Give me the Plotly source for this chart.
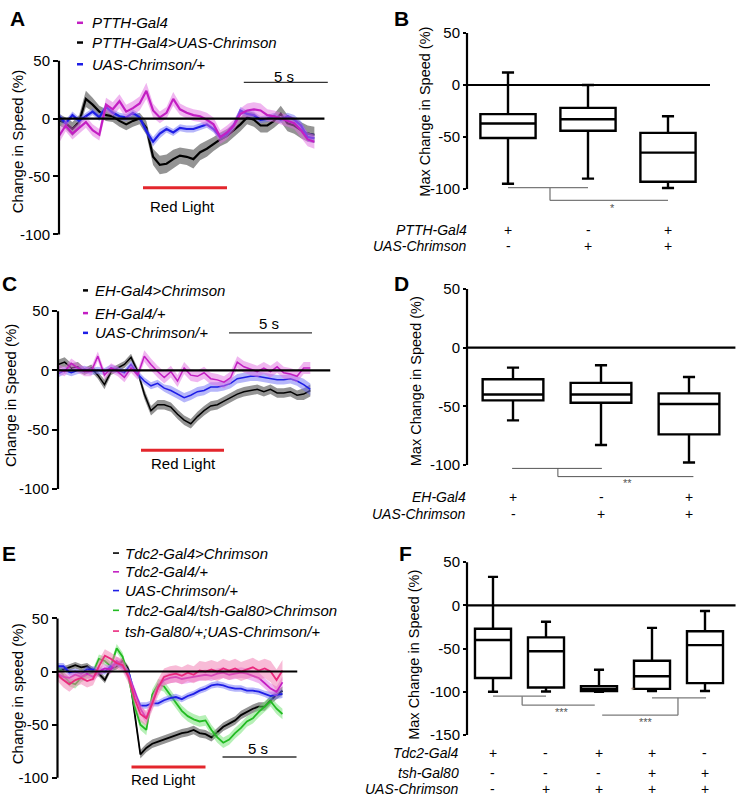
import plotly.graph_objects as go

W, H = 736, 799
FONT = "Liberation Sans, Arial, Helvetica, sans-serif"

# ---------------- data ----------------
TIME = [0.0, 0.4, 0.8, 1.2, 1.6, 2.0, 2.4, 2.8, 3.2, 3.6,
        4.0, 4.4, 4.8, 5.2, 5.6, 6.0, 6.4, 6.8, 7.2, 7.6,
        8.0, 8.4, 8.8, 9.2, 9.6, 10.0, 10.4, 10.8, 11.2, 11.6,
        12.0, 12.4, 12.8, 13.2, 13.6, 14.0, 14.4, 14.8, 15.2]
LIGHT_ON, LIGHT_OFF = 5, 10
SCALE_S = 5

# Panel A (PTTH)
A_LABELS = ["PTTH-Gal4", "PTTH-Gal4>UAS-Chrimson", "UAS-Chrimson/+"]
A_GAL4 = [-15, -6, -13, -8, -3, -10, -14, 12, 8, 15, 6, 9, 13, 24, 7, 1, 5, 17, 8, 5,
          3, 2, -1, -5, -16, -12, -6, 4, 7, 8, 7, 3, 2, 0, -2, -4, -10, -18, -20]
A_GAL4_SEM = [6, 5, 5, 5, 5, 5, 5, 6, 6, 6, 6, 6, 6, 7, 6, 5, 5, 6, 5, 5,
              5, 5, 6, 6, 6, 6, 5, 5, 6, 6, 6, 5, 5, 5, 5, 5, 6, 6, 6]
A_CHR = [-1, -4, -9, -3, 17, 12, 6, 3, 2, -2, -5, -2, 0, -8, -33, -40, -39, -35, -32, -33,
         -35, -29, -26, -22, -18, -15, -10, -5, 1, -1, -6, -6, -2, 4, -4, -6, -10, -13, -14]
A_CHR_SEM = [5, 5, 6, 6, 7, 6, 5, 5, 5, 5, 5, 5, 5, 6, 7, 8, 8, 8, 7, 7,
             8, 7, 7, 6, 6, 6, 6, 6, 6, 6, 6, 6, 6, 7, 7, 7, 7, 7, 7]
A_UAS = [2, -4, 3, -2, 2, 6, 1, 10, 5, 2, 1, 5, 1, -11, -20, -13, -9, -12, -8, -9,
         -9, -7, -5, -9, -16, -13, -6, 7, 4, 3, -1, 0, 2, -1, 2, -1, -6, -16, -17]
A_UAS_SEM = [3, 3, 3, 3, 3, 3, 3, 3, 3, 3, 3, 3, 3, 3, 4, 4, 3, 3, 3, 3,
             3, 3, 3, 3, 3, 3, 3, 3, 3, 3, 3, 3, 3, 3, 3, 4, 4, 4, 4]

# Panel C (EH)
C_LABELS = ["EH-Gal4>Chrimson", "EH-Gal4/+", "UAS-Chrimson/+"]
C_CHR = [5, 7, 2, 3, -1, 2, -4, -12, -1, 2, 5, 11, -1, -20, -34, -29, -29, -31, -37, -42,
         -45, -39, -34, -30, -29, -26, -23, -20, -18, -17, -16, -18, -16, -19, -19, -18, -21, -20, -17]
C_CHR_SEM = [4, 4, 4, 4, 3, 3, 3, 4, 3, 3, 3, 3, 3, 4, 4, 4, 4, 4, 4, 4,
             4, 4, 4, 4, 4, 4, 4, 4, 4, 4, 4, 4, 4, 4, 4, 4, 4, 5, 5]
C_GAL4 = [1, -1, 6, 2, -1, -1, 12, -4, 2, -1, -6, 2, -4, 12, 5, -1, -6, -1, -9, 2,
          -4, -5, -2, -7, -8, -10, -6, 7, 3, 1, -1, 2, -1, 3, -2, -3, -5, 2, 2]
C_GAL4_SEM = [4, 4, 4, 4, 4, 4, 4, 4, 4, 4, 4, 4, 4, 5, 5, 5, 5, 5, 5, 5,
              5, 5, 5, 5, 5, 5, 5, 5, 5, 5, 5, 5, 5, 5, 5, 5, 5, 5, 5]
C_UAS = [-3, 0, -2, 0, 1, -1, 0, -1, 2, 0, -2, 5, -3, -9, -13, -11, -15, -17, -20, -23,
         -21, -18, -17, -14, -14, -13, -11, -7, -6, -5, -5, -6, -7, -8, -8, -7, -9, -12, -16]
C_UAS_SEM = [3, 3, 3, 3, 3, 3, 3, 3, 3, 3, 3, 3, 3, 3, 3, 3, 3, 4, 4, 4,
             4, 4, 4, 4, 4, 4, 4, 4, 4, 4, 4, 4, 4, 4, 4, 4, 4, 5, 5]

# Panel E (Tdc2)
E_LABELS = ["Tdc2-Gal4>Chrimson", "Tdc2-Gal4/+", "UAS-Chrimson/+",
            "Tdc2-Gal4/tsh-Gal80>Chrimson", "tsh-Gal80/+;UAS-Chrimson/+"]
E_CHR = [2, 2, 4, 6, 4, 5, 1, -2, -8, 3, 5, 10, 2, -40, -78, -72, -68, -66, -64, -62,
         -60, -58, -57, -55, -58, -59, -62, -57, -52, -49, -46, -41, -38, -35, -33, -33, -27, -22, -18]
E_CHR_SEM = [3, 3, 3, 3, 3, 3, 3, 3, 3, 3, 3, 3, 3, 3, 4, 4, 4, 4, 4, 4,
             4, 4, 4, 4, 4, 4, 4, 4, 4, 4, 4, 4, 4, 4, 4, 4, 4, 4, 4]
E_GAL4 = [-2, -5, -6, -3, -5, -2, -5, 0, 3, 2, 10, 6, -5, -18, -35, -44, -30, -15, -8, -6,
          -5, -7, -6, -5, -4, -3, -4, -2, -1, -3, -2, -1, -2, -4, -6, -11, -16, -19, -10]
E_GAL4_SEM = [4, 4, 4, 4, 4, 4, 4, 4, 4, 4, 4, 4, 4, 4, 5, 5, 5, 5, 5, 5,
              5, 5, 5, 5, 5, 5, 5, 5, 5, 5, 5, 5, 5, 5, 5, 5, 5, 5, 5]
E_UAS = [5, 5, -1, 0, -2, 2, 2, 1, 0, 5, 8, 4, 0, -20, -32, -32, -30, -30, -27, -25,
         -24, -26, -23, -21, -18, -16, -13, -12, -13, -15, -16, -16, -18, -18, -19, -21, -23, -22, -21]
E_UAS_SEM = [3, 3, 3, 3, 3, 3, 3, 3, 3, 3, 3, 3, 3, 3, 3, 3, 3, 3, 3, 3,
             3, 3, 3, 3, 3, 3, 3, 3, 3, 3, 3, 3, 3, 3, 3, 3, 4, 4, 4]
E_GAL80_CHR = [5, -4, -10, -12, -6, -3, -1, 12, 10, 5, 22, 14, -6, -32, -50, -55, -22, -12, -14, -22,
               -30, -37, -42, -45, -47, -46, -55, -62, -67, -64, -58, -53, -47, -44, -38, -33, -28, -35, -40]
E_GAL80_CHR_SEM = [4, 4, 4, 4, 4, 4, 4, 4, 4, 4, 4, 4, 4, 5, 5, 5, 5, 5, 5, 5,
                   5, 5, 5, 5, 5, 5, 5, 5, 5, 5, 5, 5, 5, 5, 5, 5, 5, 5, 5]
E_GAL80_UAS = [-3, -8, -12, -8, -6, -9, -7, 5, 15, 12, 8, 6, -5, -25, -40, -44, -30, -15, -5, -3,
               -2, -4, -1, -3, 1, 0, 2, 0, 3, 1, 3, 0, 2, 4, 1, 3, 0, -8, 1]
E_GAL80_UAS_SEM = [6, 7, 7, 6, 6, 6, 6, 6, 6, 6, 6, 6, 6, 6, 7, 7, 7, 8, 8, 8,
                   8, 8, 8, 8, 9, 9, 9, 9, 9, 9, 9, 9, 9, 9, 9, 9, 10, 10, 10]

# Panel B boxes (max change in speed, %)
B_X = [1, 2, 3]
B_LOW = [-95, -90, -99]
B_Q1 = [-51, -44, -93]
B_MED = [-37, -33, -65]
B_Q3 = [-28, -22, -46]
B_HIGH = [12, 0, -30]
B_ROWS = ["PTTH-Gal4", "UAS-Chrimson"]
B_SIGNS = [["+", "-", "+"], ["-", "+", "+"]]

# Panel D boxes
D_X = [1, 2, 3]
D_LOW = [-62, -83, -98]
D_Q1 = [-45, -47, -74]
D_MED = [-40, -40, -48]
D_Q3 = [-27, -30, -39]
D_HIGH = [-17, -15, -25]
D_ROWS = ["EH-Gal4", "UAS-Chrimson"]
D_SIGNS = [["+", "-", "+"], ["-", "+", "+"]]

# Panel F boxes
F_X = [1, 2, 3, 4, 5]
F_LOW = [-100, -99.6, -100, -99, -99]
F_Q1 = [-84, -95, -99, -96.6, -90]
F_MED = [-40, -53, -97, -82, -46]
F_Q3 = [-27, -37, -93.5, -64, -30]
F_HIGH = [33, -19, -74.5, -26, -6.5]
F_ROWS = ["Tdc2-Gal4", "tsh-Gal80", "UAS-Chrimson"]
F_SIGNS = [["+", "-", "+", "+", "-"], ["-", "-", "-", "+", "+"], ["-", "+", "+", "+", "+"]]

TICKS_TRACE = [50, 0, -50, -100]
TICKS_TRACE_TXT = ["50", "0", "-50", "-100"]
TICKS_F = [50, 0, -50, -100, -150]
TICKS_F_TXT = ["50", "0", "-50", "-100", "-150"]

# ---------------- style ----------------
BLACK, BLACK_BAND = "#000000", "rgba(60,60,60,0.55)"
MAG, MAG_BAND = "#c31fc3", "rgba(225,110,225,0.5)"
BLUE, BLUE_BAND = "#1e1ee6", "rgba(110,110,245,0.5)"
GREEN, GREEN_BAND = "#22bb22", "rgba(110,225,110,0.5)"
PINK, PINK_BAND = "#ea2a7e", "rgba(242,120,175,0.5)"
RED = "#e3262c"

fig = go.Figure()


def add_series(mean, sem, color, band, width, xa, ya, name):
    up = [m + s for m, s in zip(mean, sem)]
    lo = [m - s for m, s in zip(mean, sem)]
    fig.add_trace(go.Scatter(x=TIME + TIME[::-1], y=up + lo[::-1], fill="toself",
                             fillcolor=band, line=dict(width=0), mode="lines",
                             hoverinfo="skip", showlegend=False, xaxis=xa, yaxis=ya))
    fig.add_trace(go.Scatter(x=TIME, y=mean, mode="lines", name=name,
                             line=dict(color=color, width=width), showlegend=False,
                             xaxis=xa, yaxis=ya))


def add_boxes(xs, low, q1, med, q3, high, width, ww, xa, ya):
    fig.add_trace(go.Box(x=xs, lowerfence=low, q1=q1, median=med, q3=q3, upperfence=high,
                         width=width, whiskerwidth=ww, fillcolor="white",
                         line=dict(color="black", width=2.4), boxpoints=False,
                         showlegend=False, hoverinfo="skip", xaxis=xa, yaxis=ya))


# A
add_series(A_CHR, A_CHR_SEM, BLACK, BLACK_BAND, 2.2, "x", "y", A_LABELS[1])
add_series(A_UAS, A_UAS_SEM, BLUE, BLUE_BAND, 2.2, "x", "y", A_LABELS[2])
add_series(A_GAL4, A_GAL4_SEM, MAG, MAG_BAND, 2.2, "x", "y", A_LABELS[0])
# C
add_series(C_CHR, C_CHR_SEM, BLACK, BLACK_BAND, 1.5, "x3", "y3", C_LABELS[0])
add_series(C_UAS, C_UAS_SEM, BLUE, BLUE_BAND, 1.5, "x3", "y3", C_LABELS[2])
add_series(C_GAL4, C_GAL4_SEM, MAG, MAG_BAND, 1.5, "x3", "y3", C_LABELS[1])
# E
add_series(E_CHR, E_CHR_SEM, BLACK, BLACK_BAND, 1.8, "x5", "y5", E_LABELS[0])
add_series(E_GAL80_CHR, E_GAL80_CHR_SEM, GREEN, GREEN_BAND, 1.8, "x5", "y5", E_LABELS[3])
add_series(E_UAS, E_UAS_SEM, BLUE, BLUE_BAND, 1.8, "x5", "y5", E_LABELS[2])
add_series(E_GAL4, E_GAL4_SEM, MAG, MAG_BAND, 1.8, "x5", "y5", E_LABELS[1])
add_series(E_GAL80_UAS, E_GAL80_UAS_SEM, PINK, PINK_BAND, 1.8, "x5", "y5", E_LABELS[4])
# boxes
add_boxes(B_X, B_LOW, B_Q1, B_MED, B_Q3, B_HIGH, 0.69, 0.22, "x2", "y2")
add_boxes(D_X, D_LOW, D_Q1, D_MED, D_Q3, D_HIGH, 0.69, 0.2, "x4", "y4")
add_boxes(F_X, F_LOW, F_Q1, F_MED, F_Q3, F_HIGH, 0.68, 0.28, "x6", "y6")

# ---------------- layout geometry (pixel calibration) ----------------
# panel: (x px at 0, px per unit, x range, y px at 0, px per unit, y range)
GEOM = {
    "A": (59, 16.8, [0, 16.2], 114, 1.173, [-104, 53]),
    "B": (428, 80, [0.4875, 3.84], 80, 1.053, [-160, 56]),
    "C": (58, 16.6, [0, 16.5], 369, 1.2, [-104, 53]),
    "D": (425, 88, [0.4773, 3.53], 346, 1.187, [-146, 56]),
    "E": (57.5, 14.8, [0, 16.5], 674, 1.075, [-106, 53]),
    "F": (440, 53, [0.5094, 5.58], 607, 0.875, [-216, 57]),
}
AX = {"A": ("x", "y", ""), "B": ("x2", "y2", "2"), "C": ("x3", "y3", "3"),
      "D": ("x4", "y4", "4"), "E": ("x5", "y5", "5"), "F": ("x6", "y6", "6")}

layout_axes = {}
for key, (a, b, xr, c, d, yr) in GEOM.items():
    xid, yid, n = AX[key]
    xdom = [(a + b * xr[0]) / W, min(1.0, (a + b * xr[1]) / W)]
    ydom = [1 - (c - d * yr[0]) / H, 1 - (c - d * yr[1]) / H]
    is_box = key in ("B", "D", "F")
    tv = TICKS_F if key == "F" else TICKS_TRACE
    tt = TICKS_F_TXT if key == "F" else TICKS_TRACE_TXT
    layout_axes["xaxis" + n] = dict(domain=xdom, range=xr, visible=False, anchor=yid, fixedrange=True)
    layout_axes["yaxis" + n] = dict(domain=ydom, range=yr, anchor=xid, tickvals=tv, ticktext=tt,
                                    ticks="outside", ticklen=3 if is_box else 5, tickwidth=2,
                                    tickcolor="black", showline=False, showgrid=False,
                                    zeroline=False, fixedrange=True,
                                    tickfont=dict(size=15, color="black", family=FONT))

shapes = []
annotations = []


def line(x0, y0, x1, y1, xref, yref, color="black", width=2.0):
    shapes.append(dict(type="line", x0=x0, y0=y0, x1=x1, y1=y1, xref=xref, yref=yref,
                       line=dict(color=color, width=width), layer="above"))


def text(x, y, s, xref, yref, size=15, xanchor="center", yanchor="middle",
         color="black", angle=0, bold=False):
    annotations.append(dict(x=x, y=y, text=s, xref=xref, yref=yref, showarrow=False,
                            xanchor=xanchor, yanchor=yanchor, textangle=angle,
                            font=dict(size=size, color=color,
                                      family=FONT, weight="bold" if bold else "normal")))


# y axis lines (drawn from -100/-150 to 50)
for key in GEOM:
    a, b, xr, c, d, yr = GEOM[key]
    xid, yid, n = AX[key]
    axis_px = a + b * xr[0]
    bottom = -150 if key == "F" else -100
    line(axis_px / W, bottom, axis_px / W, 50, "paper", yid, width=2.2)

# zero lines
line(0, 0, 15.8, 0, "x", "y", width=2.2)
line(0, 0, 16.4, 0, "x3", "y3", width=2.2)
line(0, 0, 16.2, 0, "x5", "y5", width=2.0)
line(0.4875, 0, 3.525, 0, "x2", "y2", width=2.2)
line(0.4773, 0, 3.53, 0, "x4", "y4", width=2.2)
line(0.5094, 0, 5.58, 0, "x6", "y6", width=2.2)

# red light bars + labels, scale bars
for xid, yid, ybar, ytxt, xtxt in [("x", "y", -59.7, -75.9, 7.38),
                                   ("x3", "y3", -67.5, -79, 7.53),
                                   ("x5", "y5", -90, -101.4, 7.13)]:
    line(LIGHT_ON, ybar, LIGHT_OFF, ybar, xid, yid, color=RED, width=3)
    text(xtxt, ytxt, "Red Light", xid, yid, size=15)

for xid, yid, x0, ybar, ytxt in [("x", "y", 11.0, 31.3, 36.7),
                                 ("x3", "y3", 10.3, 31.7, 39.2),
                                 ("x5", "y5", 11.15, -80.5, -72.6)]:
    line(x0, ybar, x0 + SCALE_S, ybar, xid, yid, color="#333333", width=1.3)
    text(x0 + SCALE_S / 2 - 0.1, ytxt, "5 s", xid, yid, size=15)


# legends (paper coordinates)
def legend(labels, colors, ys, dash_x0, dash_x1, text_x, dash_w):
    for lab, col, yy in zip(labels, colors, ys):
        shapes.append(dict(type="line", xref="paper", yref="paper",
                           x0=dash_x0 / W, x1=dash_x1 / W, y0=1 - yy / H, y1=1 - yy / H,
                           line=dict(color=col, width=dash_w)))
        text(text_x / W, 1 - yy / H, "<i>" + lab + "</i>", "paper", "paper",
             size=15, xanchor="left")


legend(A_LABELS, [MAG, BLACK, BLUE], [17, 37, 59], 77, 83, 90, 2.5)
legend(C_LABELS, [BLACK, MAG, BLUE], [288, 311, 331], 83, 88, 93, 2.5)
legend(E_LABELS, [BLACK, MAG, BLUE, GREEN, PINK], [554, 573, 592, 612, 633], 113, 119, 123, 1.6)

# panel letters
for lab, (xx, yy) in {"A": (17, 13), "B": (401, 13), "C": (9, 281), "D": (401, 281),
                      "E": (9, 554), "F": (406, 554)}.items():
    text(xx / W, 1 - yy / H, lab, "paper", "paper", size=21, bold=True)

# y titles
for s, (xx, yy), size in [("Change in Speed (%)", (17, 138), 15),
                          ("Max Change in Speed (%)", (425, 107), 14.5),
                          ("Change in Speed (%)", (10, 395), 15),
                          ("Max Change in Speed (%)", (416, 380), 14.5),
                          ("Change in speed (%)", (17, 697), 15),
                          ("Max Change in Speed (%)", (414, 657), 14.5)]:
    text(xx / W, 1 - yy / H, s, "paper", "paper", size=size, angle=-90)

# significance brackets
SIG = "#7a7a7a"
# B
line(1, -98.7, 2, -98.7, "x2", "y2", SIG, 1.3)
line(1.525, -98.7, 1.525, -111, "x2", "y2", SIG, 1.3)
line(1.525, -111, 3, -111, "x2", "y2", SIG, 1.3)
text(2.3, -118, "*", "x2", "y2", size=11, color="#555555")
# D
line(0.99, -103, 2.01, -103, "x4", "y4", "#555555", 1.0)
line(1.51, -103, 1.51, -110, "x4", "y4", "#555555", 1.0)
line(1.51, -110, 3.05, -110, "x4", "y4", "#555555", 1.0)
text(2.3, -115.5, "**", "x4", "y4", size=11, color="#555555")
# F
line(1, -105, 2, -105, "x6", "y6", SIG, 1.3)
line(1.55, -105, 1.55, -115.5, "x6", "y6", SIG, 1.3)
line(1.55, -115.5, 2.92, -115.5, "x6", "y6", SIG, 1.3)
text(2.3, -123, "***", "x6", "y6", size=11, color="#555555")
line(4, -107, 5.02, -107, "x6", "y6", SIG, 1.3)
line(4.49, -107, 4.49, -127, "x6", "y6", SIG, 1.3)
line(3.06, -127, 4.49, -127, "x6", "y6", SIG, 1.3)
text(3.89, -135, "***", "x6", "y6", size=11, color="#555555")
text(3.64, -98, "*", "x6", "y6", size=9, color="#888888")


# genotype tables
def genotype(rows, signs, xs, row_y, xid, yid, label_px):
    for r, (lab, sg) in enumerate(zip(rows, signs)):
        text(label_px / W, row_y[r], "<i>" + lab + "</i>", "paper", yid, size=14, xanchor="right")
        for xv, s in zip(xs, sg):
            text(xv, row_y[r], s, xid, yid, size=14)


genotype(B_ROWS, B_SIGNS, B_X, [-139.6, -154.8], "x2", "y2", 469)
genotype(D_ROWS, D_SIGNS, D_X, [-127, -142], "x4", "y4", 468)
genotype(F_ROWS, F_SIGNS, F_X, [-171, -194, -212], "x6", "y6", 461)

fig.update_layout(
    width=W, height=H, margin=dict(l=0, r=0, t=0, b=0),
    paper_bgcolor="white", plot_bgcolor="rgba(0,0,0,0)",
    font=dict(family=FONT, color="black"),
    showlegend=False, shapes=shapes, annotations=annotations,
    **layout_axes,
)

fig.write_html("out.html", config={"displayModeBar": False},
               post_script="document.body.style.margin='0px';document.body.style.overflow='hidden';")
